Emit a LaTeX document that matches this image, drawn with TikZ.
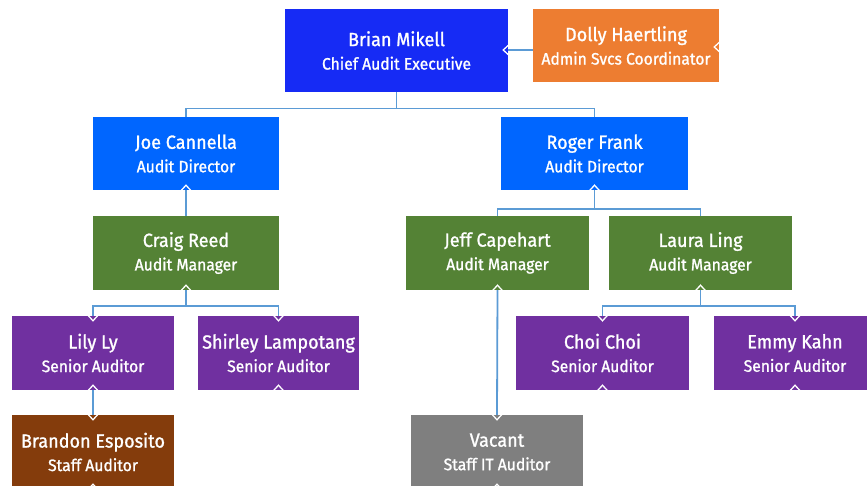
\documentclass[tikz,border=0pt]{standalone}
\usepackage{fontspec}
\setmainfont{Fira Sans}[FakeStretch=0.95,FakeBold=1.2]
\definecolor{cexec}{RGB}{22,43,245}
\definecolor{cdir}{RGB}{0,102,255}
\definecolor{cmgr}{RGB}{84,130,53}
\definecolor{corg}{RGB}{237,125,49}
\definecolor{csen}{RGB}{112,48,160}
\definecolor{cstaff}{RGB}{132,60,12}
\definecolor{cvac}{RGB}{127,127,127}
\definecolor{cline}{RGB}{91,155,213}
\tikzset{
  x=1pt,y=-1pt,
  box/.style={rectangle, inner sep=0pt, text=white, align=center,
    font=\fontsize{16.5}{23.5}\selectfont},
  conn/.style={draw=cline, line width=1.8pt},
  chev/.style={draw=white, line width=1.3pt}
}
\newcommand\nm[1]{{\fontsize{19}{23.5}\selectfont #1}}
\begin{document}
\begin{tikzpicture}
\clip (0,0) rectangle (867,486);
\useasboundingbox (0,0) rectangle (867,486);
\fill[white] (0,0) rectangle (867,486);
% nodes
\node[box, fill=cexec, minimum width=223, minimum height=83] (brian) at (396.5,50.5) {\nm{Brian Mikell}\\Chief Audit Executive};
\node[box, fill=corg, minimum width=186, minimum height=73] (dolly) at (626,45.5) {\nm{Dolly Haertling}\\Admin Svcs Coordinator};
\node[box, fill=cdir, minimum width=186, minimum height=73] (joe) at (186,153.5) {\nm{Joe Cannella}\\Audit Director};
\node[box, fill=cdir, minimum width=187, minimum height=73] (roger) at (594.5,153.5) {\nm{Roger Frank}\\Audit Director};
\node[box, fill=cmgr, minimum width=186, minimum height=74] (craig) at (186,253) {\nm{Craig Reed}\\Audit Manager};
\node[box, fill=cmgr, minimum width=183, minimum height=74] (jeff) at (497.5,253) {\nm{Jeff Capehart}\\Audit Manager};
\node[box, fill=cmgr, minimum width=183, minimum height=74] (laura) at (700.5,253) {\nm{Laura Ling}\\Audit Manager};
\node[box, fill=csen, minimum width=162, minimum height=74] (lily) at (93,353) {\nm{Lily Ly}\\Senior Auditor};
\node[box, fill=csen, minimum width=161, minimum height=74] (shirley) at (278.5,353) {\nm{Shirley Lampotang}\\Senior Auditor};
\node[box, fill=csen, minimum width=173, minimum height=74] (choi) at (602.5,353) {\nm{Choi Choi}\\Senior Auditor};
\node[box, fill=csen, minimum width=162, minimum height=74] (emmy) at (795,353) {\nm{Emmy Kahn}\\Senior Auditor};
\node[box, fill=cstaff, minimum width=162, minimum height=74] (brandon) at (93,452) {\nm{Brandon Esposito}\\Staff Auditor};
\node[box, fill=cvac, minimum width=172, minimum height=74] (vacant) at (497,452) {\nm{Vacant}\\Staff IT Auditor};
% connectors
\draw[conn] (dolly.west |- 0,50) -- (brian.east |- 0,50);
\draw[conn] (brian.south) -- (brian.south |- 0,108.5) -| (joe.north);
\draw[conn] (brian.south |- 0,108.5) -| (roger.north);
\draw[conn] (craig.north) -- (joe.south);
\draw[conn] (craig.south) -- (craig.south |- 0,306) -| (lily.north);
\draw[conn] (craig.south |- 0,306) -| (shirley.north);
\draw[conn] (roger.south) -- (roger.south |- 0,209) -| (jeff.north);
\draw[conn] (roger.south |- 0,209) -| (laura.north);
\draw[conn] (laura.south) -- (laura.south |- 0,306) -| (choi.north);
\draw[conn] (laura.south |- 0,306) -| (emmy.north);
\draw[conn] (lily.south) -- (brandon.north);
\draw[conn] (jeff.south) -- (vacant.north);
% chevrons
\foreach \n in {joe,roger,craig,jeff,laura,lily,shirley,choi,emmy,brandon,vacant}
  \draw[chev, shift={(\n.south)}] (-5,0.5) -- (0,-5) -- (5,0.5);
\foreach \n in {lily,shirley,choi,emmy,brandon,vacant}
  \draw[chev, shift={(\n.north)}] (-5,-0.5) -- (0,5) -- (5,-0.5);
\draw[chev, shift={(dolly.east |- 0,47)}] (0.5,-5) -- (-5,0) -- (0.5,5);
\draw[chev, shift={(brian.east |- 0,50)}] (0.5,-5) -- (-5,0) -- (0.5,5);
\end{tikzpicture}
\end{document}
